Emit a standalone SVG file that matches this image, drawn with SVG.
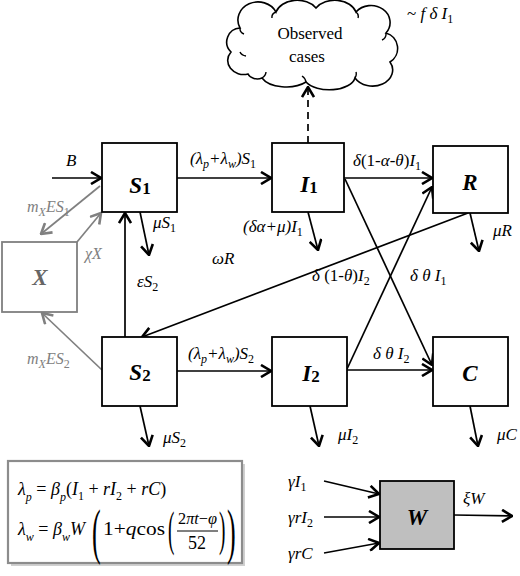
<svg xmlns="http://www.w3.org/2000/svg" width="520" height="576" viewBox="0 0 520 576">
<style>
.box{fill:#fff;stroke:#000;stroke-width:1.8}
.gbox{fill:#fff;stroke:#7f7f7f;stroke-width:1.8}
.ln{stroke:#000;stroke-width:1.7;fill:none}
.gln{stroke:#808080;stroke-width:1.7;fill:none}
.lab{font-family:"Liberation Serif","DejaVu Serif",serif;font-style:italic;font-size:17px;fill:#000}
.glab{font-family:"Liberation Serif","DejaVu Serif",serif;font-style:italic;font-size:16px;fill:#808080}
.big{font-family:"Liberation Serif","DejaVu Serif",serif;font-style:italic;font-weight:bold;font-size:23px;text-anchor:middle}
.up{font-style:normal}
.sub{font-size:12px}
.cl{font-family:"Liberation Serif","DejaVu Serif",serif;font-size:17px;text-anchor:middle}
.fm{font-family:"Liberation Serif","DejaVu Serif",serif;font-style:italic;font-size:18px;fill:#000}
.fs{font-size:12px}
.par{font-family:"Liberation Serif","DejaVu Serif",serif;font-style:normal;fill:#000}
</style>
<defs>
<marker id="ah" viewBox="0 0 12 14" refX="11" refY="7" markerWidth="12" markerHeight="14" markerUnits="userSpaceOnUse" orient="auto">
<path d="M1,1 L11,7 L1,13" fill="none" stroke="#000" stroke-width="2.6"/>
</marker>
<marker id="gah" viewBox="0 0 12 14" refX="11" refY="7" markerWidth="12" markerHeight="14" markerUnits="userSpaceOnUse" orient="auto">
<path d="M1,1 L11,7 L1,13" fill="none" stroke="#808080" stroke-width="2.6"/>
</marker>
</defs>
<rect width="520" height="576" fill="#fff"/>

<g id="connectors">
<line class="ln" x1="52" y1="178" x2="101" y2="178" marker-end="url(#ah)"/>
<line class="ln" x1="177" y1="178" x2="271" y2="178" marker-end="url(#ah)"/>
<line class="ln" x1="344" y1="178" x2="432" y2="178" marker-end="url(#ah)"/>
<line class="ln" x1="345" y1="179" x2="432" y2="365" marker-end="url(#ah)"/>
<line class="ln" x1="347" y1="369" x2="432" y2="187" marker-end="url(#ah)"/>
<line class="ln" x1="177" y1="371" x2="271" y2="371" marker-end="url(#ah)"/>
<line class="ln" x1="347" y1="370" x2="432" y2="370" marker-end="url(#ah)"/>
<line class="ln" x1="468" y1="213" x2="142" y2="337" marker-end="url(#ah)"/>
<line class="ln" x1="125" y1="337" x2="125" y2="213" marker-end="url(#ah)"/>
<line class="ln" x1="140" y1="212" x2="149" y2="255" marker-end="url(#ah)"/>
<line class="ln" x1="308" y1="212" x2="318" y2="250" marker-end="url(#ah)"/>
<line class="ln" x1="470" y1="213" x2="479" y2="251" marker-end="url(#ah)"/>
<line class="ln" x1="140" y1="406" x2="149" y2="446" marker-end="url(#ah)"/>
<line class="ln" x1="310" y1="406" x2="319" y2="446" marker-end="url(#ah)"/>
<line class="ln" x1="470" y1="406" x2="478" y2="446" marker-end="url(#ah)"/>
<line class="ln" x1="308" y1="143" x2="308" y2="87" stroke-dasharray="7,5" marker-end="url(#ah)"/>
<line class="gln" x1="100" y1="186" x2="41" y2="234" marker-end="url(#gah)"/>
<line class="gln" x1="77" y1="242" x2="101" y2="213" marker-end="url(#gah)"/>
<line class="gln" x1="102" y1="370" x2="42" y2="313" marker-end="url(#gah)"/>
<line class="ln" x1="324" y1="481" x2="379" y2="494" marker-end="url(#ah)"/>
<line class="ln" x1="324" y1="517" x2="379" y2="517" marker-end="url(#ah)"/>
<line class="ln" x1="324" y1="553" x2="379" y2="543" marker-end="url(#ah)"/>
<line class="ln" x1="454" y1="515" x2="512" y2="516" marker-end="url(#ah)"/>
</g>

<g id="cloud">
<path d="M248,74 A16,14 0 0 1 231,52 A14,14 0 0 1 240,28 A20,18 0 0 1 276,12 A22,16 0 0 1 316,8 A22,16 0 0 1 356,12 A18,16 0 0 1 386,33 A16,16 0 0 1 390,62 A20,16 0 0 1 355,78 A26,14 0 0 1 306,82 A26,14 0 0 1 262,78 A10,8 0 0 1 248,74 Z" fill="#fff" stroke="#000" stroke-width="1.6"/>
<path d="M240,52 A8,6 0 0 0 246,56 M262,78 A10,8 0 0 0 266,72 M306,82 A12,9 0 0 0 302,76 M355,78 A9,8 0 0 0 356,72 M386,33 A7,7 0 0 1 382,40 M356,12 A7,6 0 0 1 358,18 M276,12 A8,6 0 0 0 272,18 M240,28 A6,6 0 0 0 244,34" fill="none" stroke="#000" stroke-width="1.4"/>
<text class="cl" x="310" y="39">Observed</text>
<text class="cl" x="307" y="62">cases</text>
</g>

<g id="S1"><rect class="box" x="102" y="143" width="75" height="69"/><text class="big" x="140" y="193">S<tspan font-size="17" dy="1" font-style="normal">1</tspan></text></g>
<g id="I1"><rect class="box" x="272" y="143" width="72" height="69"/><text class="big" x="309" y="192">I<tspan font-size="17" dy="1" font-style="normal">1</tspan></text></g>
<g id="R"><rect class="box" x="433" y="146" width="75" height="67"/><text class="big" x="470" y="190">R</text></g>
<g id="X"><rect class="gbox" x="2" y="242" width="75" height="70"/><text class="big" x="40" y="285" fill="#666">X</text></g>
<g id="S2"><rect class="box" x="102" y="337" width="75" height="69"/><text class="big" x="140" y="380">S<tspan font-size="17" dy="1" font-style="normal">2</tspan></text></g>
<g id="I2"><rect class="box" x="272" y="337" width="75" height="69"/><text class="big" x="311" y="381">I<tspan font-size="17" dy="1" font-style="normal">2</tspan></text></g>
<g id="C"><rect class="box" x="433" y="337" width="75" height="69"/><text class="big" x="470" y="381">C</text></g>
<g id="W"><rect x="380" y="481" width="74" height="68" fill="#bfbfbf" stroke="#000" stroke-width="1.8"/><text class="big" x="417" y="525">W</text></g>

<g id="labels">
<text class="lab" x="66" y="166">B</text>
<text class="lab" x="190" y="164">(λ<tspan class="sub" dy="4">p</tspan><tspan dy="-4">+λ</tspan><tspan class="sub" dy="4">w</tspan><tspan dy="-4">)S</tspan><tspan class="sub up" dy="4">1</tspan></text>
<text class="lab" x="353" y="166">δ<tspan class="up">(1-</tspan>α<tspan class="up">-</tspan>θ<tspan class="up">)</tspan>I<tspan class="sub up" dy="4">1</tspan></text>
<text class="lab" x="243" y="232">(δα+μ)I<tspan class="sub up" dy="4">1</tspan></text>
<text class="lab" x="212" y="264">ωR</text>
<text class="lab" x="153" y="228">μS<tspan class="sub up" dy="4">1</tspan></text>
<text class="lab" x="137" y="287">εS<tspan class="sub up" dy="4">2</tspan></text>
<text class="glab" x="27" y="212">m<tspan class="sub" dy="4">X</tspan><tspan dy="-4">ES</tspan><tspan class="sub up" dy="4">1</tspan></text>
<text class="glab" x="85" y="259">χX</text>
<text class="glab" x="27" y="364">m<tspan class="sub" dy="4">X</tspan><tspan dy="-4">ES</tspan><tspan class="sub up" dy="4">2</tspan></text>
<text class="lab" x="188" y="359">(λ<tspan class="sub" dy="4">p</tspan><tspan dy="-4">+λ</tspan><tspan class="sub" dy="4">w</tspan><tspan dy="-4">)S</tspan><tspan class="sub up" dy="4">2</tspan></text>
<text class="lab" x="163" y="443">μS<tspan class="sub up" dy="4">2</tspan></text>
<text class="lab" x="312" y="281">δ <tspan class="up">(1-</tspan>θ<tspan class="up">)</tspan>I<tspan class="sub up" dy="4">2</tspan></text>
<text class="lab" x="410" y="281">δ θ I<tspan class="sub up" dy="4">1</tspan></text>
<text class="lab" x="373" y="359">δ θ I<tspan class="sub up" dy="4">2</tspan></text>
<text class="lab" x="493" y="236">μR</text>
<text class="lab" x="338" y="440">μI<tspan class="sub up" dy="4">2</tspan></text>
<text class="lab" x="497" y="440">μC</text>
<text class="lab" x="407" y="19"><tspan class="up">~ </tspan>f δ I<tspan class="sub up" dy="4">1</tspan></text>
<text class="lab" x="288" y="487">γI<tspan class="sub up" dy="4">1</tspan></text>
<text class="lab" x="288" y="523">γrI<tspan class="sub up" dy="4">2</tspan></text>
<text class="lab" x="288" y="559">γrC</text>
<text class="lab" x="463" y="504">ξW</text>
</g>

<g id="formula">
<rect x="11" y="464" width="234" height="102" fill="#d0d0d0"/>
<rect x="8" y="461" width="234" height="102" fill="#fff" stroke="#8c8c8c" stroke-width="2.2"/>
<text class="fm" x="18" y="495">λ<tspan class="fs" dy="6">p</tspan><tspan class="up" dy="-6"> = </tspan>β<tspan class="fs" dy="6">p</tspan><tspan class="up" dy="-6">(</tspan>I<tspan class="fs up" dy="5">1</tspan><tspan class="up" dy="-5"> + </tspan>rI<tspan class="fs up" dy="5">2</tspan><tspan class="up" dy="-5"> + </tspan>rC<tspan class="up">)</tspan></text>
<text class="fm" x="18" y="535">λ<tspan class="fs" dy="6">w</tspan><tspan class="up" dy="-6"> = </tspan>β<tspan class="fs" dy="6">w</tspan><tspan dy="-6">W</tspan></text>
<text class="par" style="font-size:62px" transform="translate(92,552) scale(0.42,1)">(</text>
<text class="fm" x="103" y="535" textLength="62" lengthAdjust="spacingAndGlyphs"><tspan class="up">1+</tspan>q<tspan class="up">cos</tspan></text>
<text class="par" style="font-size:48px" transform="translate(168,545) scale(0.4,1)">(</text>
<text class="fm" x="178" y="524" textLength="39" lengthAdjust="spacingAndGlyphs" style="font-size:17px"><tspan class="up">2</tspan>πt<tspan class="up">−</tspan>φ</text>
<line x1="177" y1="531" x2="218" y2="531" stroke="#000" stroke-width="1"/>
<text class="par" x="197" y="549" text-anchor="middle" style="font-size:18px">52</text>
<text class="par" style="font-size:48px" transform="translate(219,545) scale(0.4,1)">)</text>
<text class="par" style="font-size:62px" transform="translate(227,552) scale(0.42,1)">)</text>
</g>
</svg>
